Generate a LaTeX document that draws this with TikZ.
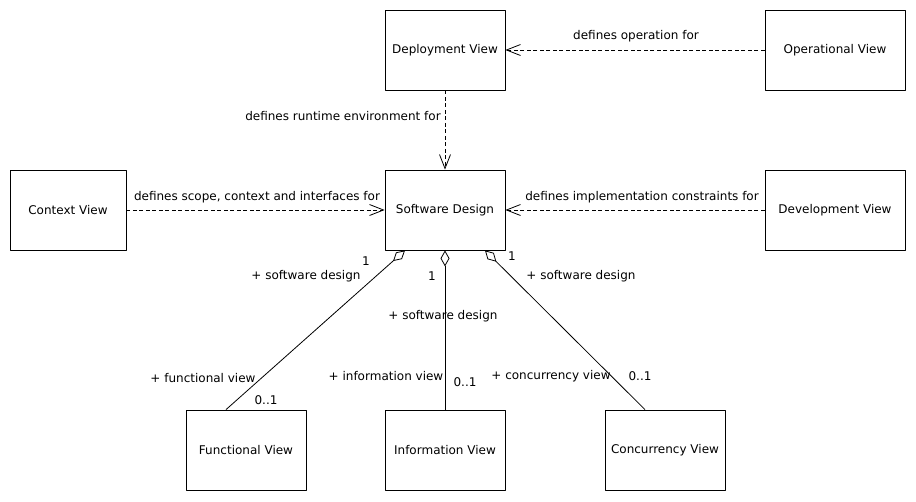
\documentclass[tikz,border=0pt]{standalone}
\usepackage{fontspec}
\setmainfont{DejaVu Sans}
\usetikzlibrary{arrows.meta}
\tikzset{
  view/.style={draw, line width=0.8pt, minimum width=120pt, minimum height=80pt, inner sep=0pt},
  dep/.style={draw, line width=0.8pt, dash pattern=on 4pt off 2.5pt, -{Straight Barb[length=14pt,width=11pt]}},
  agg/.style={draw, line width=0.8pt, {Diamond[open,length=16pt,width=9pt]}-},
  lbl/.style={inner sep=0pt}
}
\begin{document}
\begin{tikzpicture}[x=1pt, y=-1pt, font=\fontsize{12}{14}\selectfont, line join=round]
\useasboundingbox (0,0) rectangle (916,501);
% Kästen
\node[view] (deploy) at (445,50) {Deployment View};
\node[view, minimum width=140pt] (oper) at (835,50) {Operational View};
\node[view, minimum width=116pt] (context) at (68,210) {Context View};
\node[view] (design) at (445,210) {Software Design};
\node[view, minimum width=140pt] (devel) at (835,210) {Development View};
\node[view] (func) at (246,450) {Functional View};
\node[view] (info) at (445,450) {Information View};
\node[view] (conc) at (665,450) {Concurrency View};

% Abhängigkeiten
\draw[dep] (oper) -- (deploy);
\draw[dep] (deploy) -- (design);
\draw[dep] (context) -- (design);
\draw[dep] (devel) -- (design);
\node[lbl] (l1) at (636,36) {defines operation for};
\node[lbl] (l2) at (343,116) {defines runtime environment for};
\node[lbl] (l3) at (257,197) {defines scope, context and interfaces for};
\node[lbl] (l4) at (642,197) {defines implementation constraints for};

% Aggregationen
\draw[agg] ([xshift=-40pt]design.south) -- ([xshift=-20pt]func.north);
\draw[agg] (design.south) -- (info.north);
\draw[agg] ([xshift=40pt]design.south) -- ([xshift=-20pt]conc.north);
\node[lbl] (m1) at (366,261) {1};
\node[lbl] (r1) at (306,276) {+ software design};
\node[lbl] (m2) at (432,276) {1};
\node[lbl] (r2) at (443,316) {+ software design};
\node[lbl] (m3) at (512,256) {1};
\node[lbl] (r3) at (581,276) {+ software design};
\node[lbl] (r4) at (203,378) {+ functional view};
\node[lbl] (m4) at (266,400) {0..1};
\node[lbl] (r5) at (386,376) {+ information view};
\node[lbl] (m5) at (465,382) {0..1};
\node[lbl] (r6) at (551,376) {+ concurrency view};
\node[lbl] (m6) at (640,376) {0..1};
\end{tikzpicture}
\end{document}
